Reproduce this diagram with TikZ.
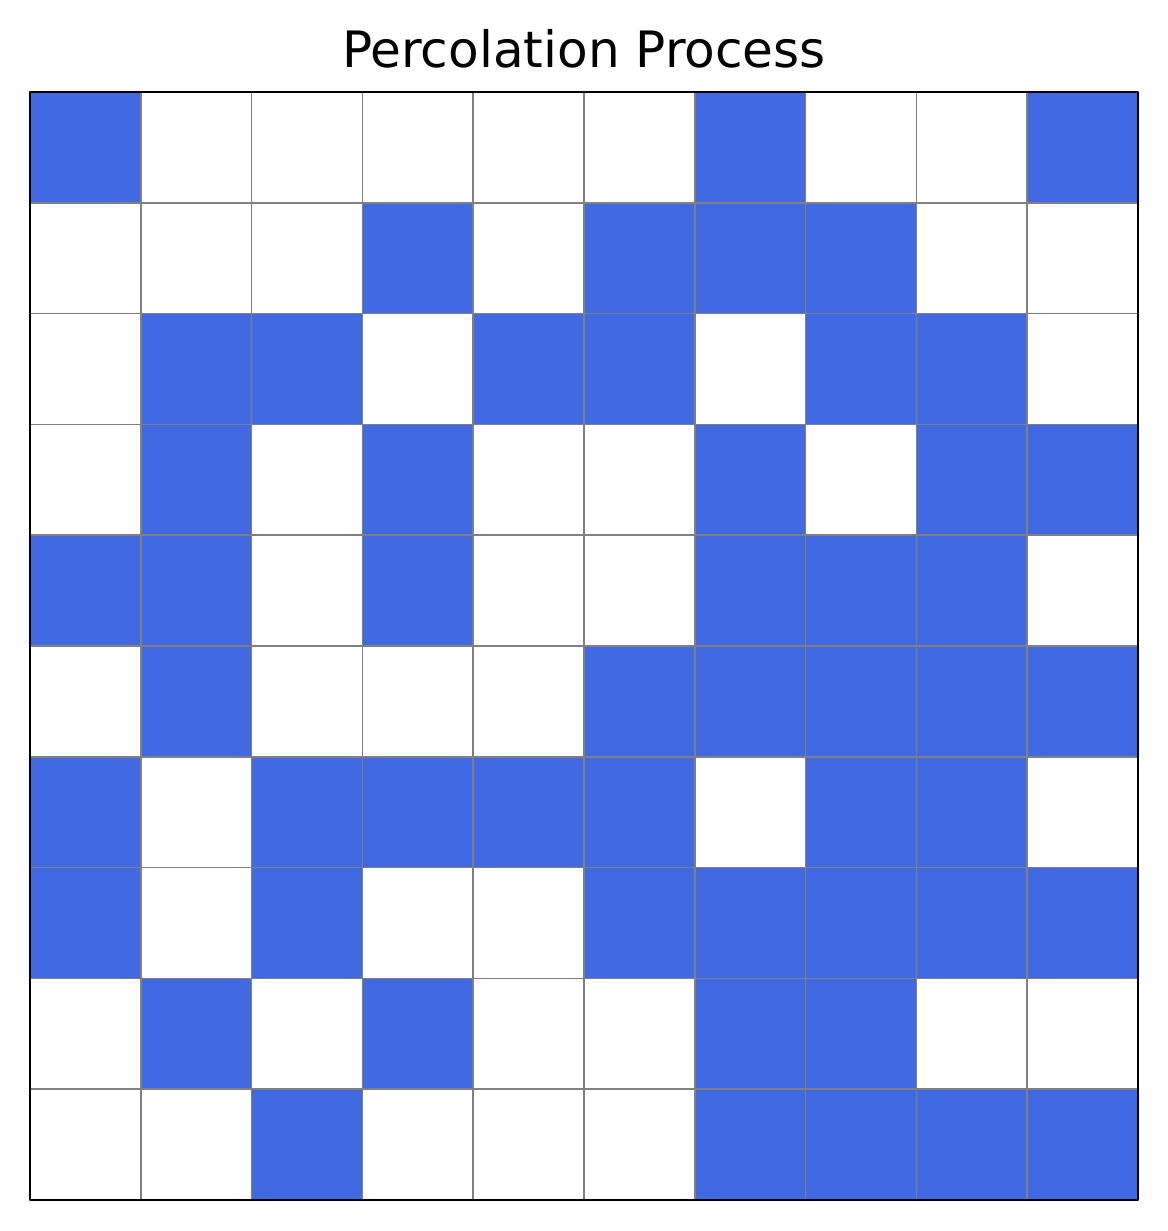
\documentclass[tikz,border=0pt]{standalone}
\usepackage{fontspec}
\setmainfont{DejaVu Sans}
\definecolor{royal}{HTML}{4169E1}
\begin{document}
\begin{tikzpicture}[line join=round, cell/.style={fill=royal}]
	\def\n{10} % cells per side
	\useasboundingbox (-0.2705,-0.2795) rectangle (10.262,10.83);
	% rows from top to bottom, 1 = blue
	\foreach \row [count=\r from 0] in {
		{1,0,0,0,0,0,1,0,0,1},
		{0,0,0,1,0,1,1,1,0,0},
		{0,1,1,0,1,1,0,1,1,0},
		{0,1,0,1,0,0,1,0,1,1},
		{1,1,0,1,0,0,1,1,1,0},
		{0,1,0,0,0,1,1,1,1,1},
		{1,0,1,1,1,1,0,1,1,0},
		{1,0,1,0,0,1,1,1,1,1},
		{0,1,0,1,0,0,1,1,0,0},
		{0,0,1,0,0,0,1,1,1,1}}{
	\foreach \v [count=\c from 0] in \row {
		\ifnum\v=1 \fill[cell] (\c,\n-1-\r) rectangle ++(1,1); \fi
	}}
	\draw[gray, line width=0.4pt] (0,0) grid (\n,\n);
	\draw[black, line width=0.6pt] (0,0) rectangle (\n,\n);
	\node (title) at (5,10.219) [anchor=base, inner sep=0pt] {\fontsize{12.87}{15}\selectfont Percolation Process};
\end{tikzpicture}
\end{document}
